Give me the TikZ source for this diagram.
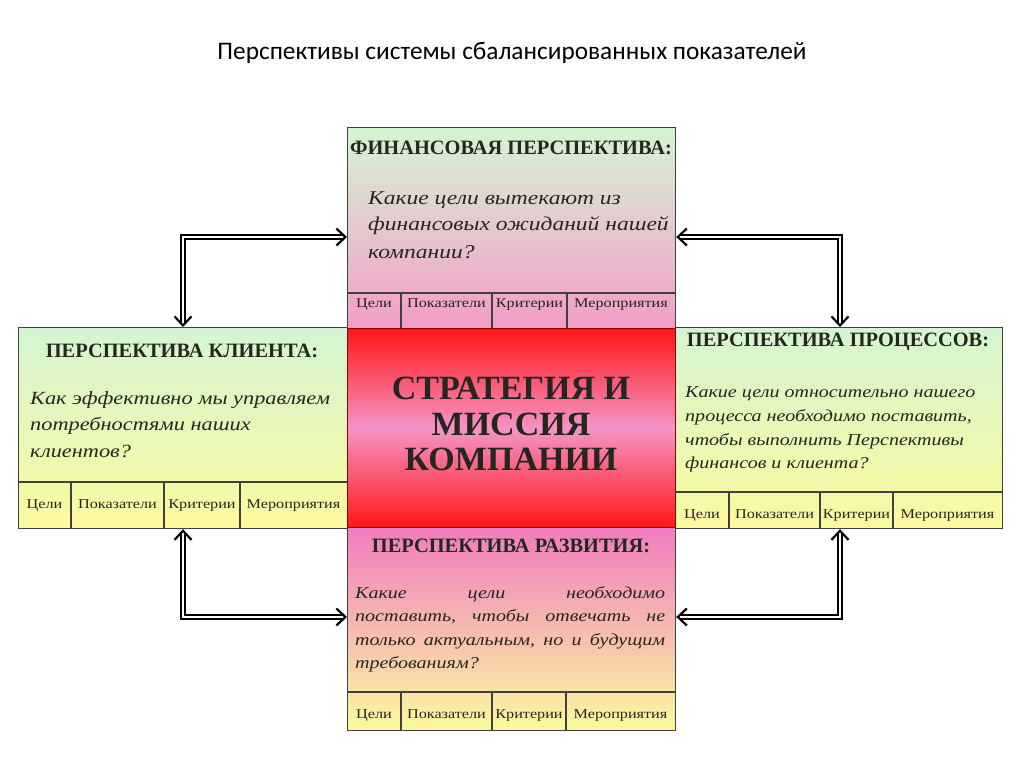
\documentclass[tikz,border=0pt]{standalone}
\usepackage{fontspec}
\setmainfont{Liberation Serif}
\newfontfamily\titlefont{Carlito}
\newfontfamily\wideserif[FakeStretch=1.2]{Liberation Serif}
\usetikzlibrary{arrows.meta}
\definecolor{lgreen}{HTML}{D4F5D2}
\definecolor{lpink}{HTML}{F49CC8}
\definecolor{lyellow}{HTML}{FCFA9E}
\definecolor{dpink}{HTML}{EF7CC0}
\definecolor{sred}{HTML}{FF1616}
\definecolor{mpink}{HTML}{F594C6}
\definecolor{txt}{HTML}{262620}
\tikzset{dtip/.tip={Straight Barb[length=9pt, width=17pt, line width=2.2pt]}}
\begin{document}
\begin{tikzpicture}[x=1pt,y=-1pt,
  box/.style={draw=black!75, line width=1.2pt, inner sep=0pt, anchor=north west},
  tline/.style={draw=black!75, line width=1.2pt},
  hdr/.style={font=\bfseries\fontsize{20.4}{22}\selectfont, text=txt, inner sep=0pt},
  q/.style={font=\wideserif\itshape\fontsize{19.6}{22}\selectfont, text=txt, anchor=west, inner sep=0pt},
  qc/.style={font=\wideserif\itshape\fontsize{18.6}{22}\selectfont, text=txt, anchor=west, inner sep=0pt},
  qs/.style={font=\wideserif\itshape\fontsize{16.7}{20}\selectfont, text=txt, anchor=west, inner sep=0pt},
  cell/.style={font=\wideserif\fontsize{13.5}{14}\selectfont, text=txt, inner sep=0pt, anchor=base},
  big/.style={font=\bfseries\fontsize{34}{36}\selectfont, text=txt, inner sep=0pt},
  arr/.style={line width=1.8pt, double=white, double distance=2.4pt, {dtip}-{dtip}, line join=miter}
]
\useasboundingbox (0,0) rectangle (1024,767);
\fill[white] (0,0) rectangle (1024,767);

\node[font=\titlefont\fontsize{25.3}{28}\selectfont, inner sep=0pt] (title) at (512,53) {Перспективы системы сбалансированных показателей};

% boxes
\node[box, top color=lgreen, bottom color=lpink, minimum width=328pt, minimum height=201pt] (fin) at (347,127) {};
\node[box, top color=lgreen, bottom color=lyellow, minimum width=329pt, minimum height=201pt] (cli) at (18,327) {};
\node[box, top color=lgreen, bottom color=lyellow, minimum width=327pt, minimum height=201pt] (proc) at (675,327) {};
\node[box, top color=dpink, bottom color=lyellow, minimum width=328pt, minimum height=203pt] (dev) at (347,527) {};
\node[box, draw=red!55!black, top color=sred, bottom color=sred, middle color=mpink, minimum width=328pt, minimum height=199pt] (core) at (347,328) {};

% tables
\draw[tline] (347,293) -- (675,293) (401,293) -- (401,328) (492,293) -- (492,328) (567,293) -- (567,328);
\draw[tline] (18,482) -- (347,482) (71,482) -- (71,528) (164,482) -- (164,528) (240,482) -- (240,528);
\draw[tline] (675,492) -- (1002,492) (729,492) -- (729,528) (820,492) -- (820,528) (893,492) -- (893,528);
\draw[tline] (347,692) -- (675,692) (401,692) -- (401,730) (492,692) -- (492,730) (566,692) -- (566,730);

\node[cell] (f1) at (374,307) {Цели};
\node[cell] (f2) at (446.5,307) {Показатели};
\node[cell] (f3) at (529.5,307) {Критерии};
\node[cell] (f4) at (621,307) {Мероприятия};

\node[cell] (k1) at (44.5,508) {Цели};
\node[cell] (k2) at (117.5,508) {Показатели};
\node[cell] (k3) at (202,508) {Критерии};
\node[cell] (k4) at (293.5,508) {Мероприятия};

\node[cell] (p1) at (702,518) {Цели};
\node[cell] (p2) at (774.5,518) {Показатели};
\node[cell] (p3) at (856.5,518) {Критерии};
\node[cell] (p4) at (947.5,518) {Мероприятия};

\node[cell] (d1) at (374,718) {Цели};
\node[cell] (d2) at (446.5,718) {Показатели};
\node[cell] (d3) at (529,718) {Критерии};
\node[cell] (d4) at (620.5,718) {Мероприятия};

% headers
\node[hdr] (fh) at (511,148) {ФИНАНСОВАЯ ПЕРСПЕКТИВА:};
\node[hdr] (ch) at (182,351) {ПЕРСПЕКТИВА КЛИЕНТА:};
\node[hdr] (ph) at (838,342) {ПЕРСПЕКТИВА ПРОЦЕССОВ:};
\node[hdr] (dh) at (511,546) {ПЕРСПЕКТИВА РАЗВИТИЯ:};

% questions
\node[q] (fq1) at (368,200) {Какие цели вытекают из};
\node[q] (fq2) at (368,226) {финансовых ожиданий нашей};
\node[q] (fq3) at (368,252) {компании?};

\node[qc] (cq1) at (30,400) {Как эффективно мы управляем};
\node[qc] (cq2) at (30,426) {потребностями наших};
\node[qc] (cq3) at (30,451) {клиентов?};

\node[qs] (pq1) at (685,394) {Какие цели относительно нашего};
\node[qs] (pq2) at (685,417) {процесса необходимо поставить,};
\node[qs] (pq3) at (685,441) {чтобы выполнить Перспективы};
\node[qs] (pq4) at (685,464) {финансов и клиента?};

\node[qs] (dq1) at (355,594) {\hbox to 310pt{Какие\hfill цели\hfill необходимо}};
\node[qs] (dq2) at (355,617) {\hbox to 310pt{поставить,\hfill чтобы\hfill отвечать\hfill не}};
\node[qs] (dq3) at (355,641) {\hbox to 310pt{только\hfill актуальным,\hfill но\hfill и\hfill будущим}};
\node[qs] (dq4) at (355,664) {требованиям?};

% core text
\node[big] (s1) at (511,388) {СТРАТЕГИЯ И};
\node[big] (s2) at (511,424) {МИССИЯ};
\node[big] (s3) at (511,459) {КОМПАНИИ};

% arrows
\coordinate (c1) at (183,237);
\coordinate (c2) at (840,237);
\coordinate (c3) at (183,617);
\coordinate (c4) at (840,617);
\draw[arr] (c1 -| fin.west) -- (c1) -- (c1 |- cli.north);
\draw[arr] (c2 -| fin.east) -- (c2) -- (c2 |- proc.north);
\draw[arr] (c3 -| dev.west) -- (c3) -- (c3 |- cli.south);
\draw[arr] (c4 -| dev.east) -- (c4) -- (c4 |- proc.south);
\end{tikzpicture}
\end{document}
